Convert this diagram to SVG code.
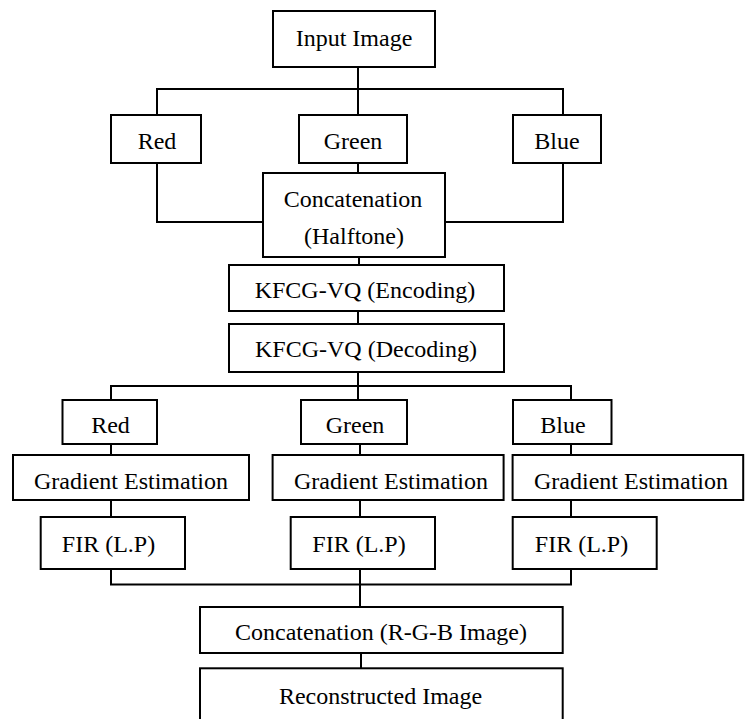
<svg xmlns="http://www.w3.org/2000/svg" width="748" height="719" viewBox="0 0 748 719">
<style>
rect{fill:#fff;stroke:#000;stroke-width:2}
#connectors line{stroke:#000;stroke-width:2}
text{font-family:"Liberation Serif","Times New Roman",serif;font-size:24px;fill:#000;text-anchor:middle}
</style>
<rect x="0" y="0" width="748" height="719" style="stroke:none"/>
<g id="connectors">
<line x1="358" y1="67" x2="358" y2="115"/>
<line x1="157" y1="89" x2="563" y2="89"/>
<line x1="157" y1="88" x2="157" y2="115"/>
<line x1="563" y1="88" x2="563" y2="115"/>
<line x1="358" y1="163" x2="358" y2="173"/>
<line x1="157" y1="163" x2="157" y2="223"/>
<line x1="156" y1="222" x2="263" y2="222"/>
<line x1="563" y1="163" x2="563" y2="223"/>
<line x1="445" y1="222" x2="564" y2="222"/>
<line x1="359" y1="257" x2="359" y2="265"/>
<line x1="358" y1="311" x2="358" y2="324"/>
<line x1="358" y1="372" x2="358" y2="400"/>
<line x1="111" y1="386" x2="571" y2="386"/>
<line x1="111" y1="385" x2="111" y2="400"/>
<line x1="571" y1="385" x2="571" y2="400"/>
<line x1="111" y1="444" x2="111" y2="455"/>
<line x1="360" y1="444" x2="360" y2="455"/>
<line x1="571" y1="444" x2="571" y2="455"/>
<line x1="111" y1="500" x2="111" y2="517"/>
<line x1="360" y1="500" x2="360" y2="517"/>
<line x1="571" y1="500" x2="571" y2="517"/>
<line x1="111" y1="569" x2="111" y2="585"/>
<line x1="360" y1="569" x2="360" y2="607"/>
<line x1="571" y1="569" x2="571" y2="585"/>
<line x1="110" y1="584.5" x2="572" y2="584.5"/>
<line x1="361" y1="653" x2="361" y2="668"/>
</g>
<g id="input"><rect x="273" y="11" width="162" height="56"/><text x="354" y="45.5">Input Image</text></g>
<g id="red1"><rect x="111" y="115" width="90" height="48"/><text x="157" y="149">Red</text></g>
<g id="green1"><rect x="299" y="115" width="108" height="48"/><text x="353" y="149">Green</text></g>
<g id="blue1"><rect x="513" y="115" width="88" height="48"/><text x="557" y="149">Blue</text></g>
<g id="concat1"><rect x="263" y="173" width="182" height="84"/><text x="353" y="206.5">Concatenation</text><text x="354" y="244">(Halftone)</text></g>
<g id="encoding"><rect x="229" y="265" width="275" height="46"/><text x="365" y="298">KFCG-VQ (Encoding)</text></g>
<g id="decoding"><rect x="229" y="324" width="275" height="48"/><text x="366" y="357">KFCG-VQ (Decoding)</text></g>
<g id="red2"><rect x="62.5" y="400" width="94.5" height="44"/><text x="110.5" y="433">Red</text></g>
<g id="green2"><rect x="301" y="400" width="106" height="44"/><text x="355" y="433">Green</text></g>
<g id="blue2"><rect x="513" y="400" width="98.5" height="44"/><text x="563" y="433">Blue</text></g>
<g id="grad1"><rect x="13" y="455" width="236" height="45"/><text x="131" y="489">Gradient Estimation</text></g>
<g id="grad2"><rect x="272.6" y="455" width="231" height="45"/><text x="391" y="489">Gradient Estimation</text></g>
<g id="grad3"><rect x="512.6" y="455" width="230.6" height="45"/><text x="631" y="489">Gradient Estimation</text></g>
<g id="fir1"><rect x="40.7" y="517" width="144.3" height="52"/><text x="108.5" y="552">FIR (L.P)</text></g>
<g id="fir2"><rect x="290.7" y="517" width="144.3" height="52"/><text x="359" y="552">FIR (L.P)</text></g>
<g id="fir3"><rect x="512.7" y="517" width="144" height="52"/><text x="581.5" y="552">FIR (L.P)</text></g>
<g id="concat2"><rect x="200" y="607" width="362.7" height="46"/><text x="381" y="639.5">Concatenation (R-G-B Image)</text></g>
<g id="reconstructed"><rect x="200" y="668.3" width="362.7" height="60"/><text x="380.5" y="704">Reconstructed Image</text></g>
</svg>
